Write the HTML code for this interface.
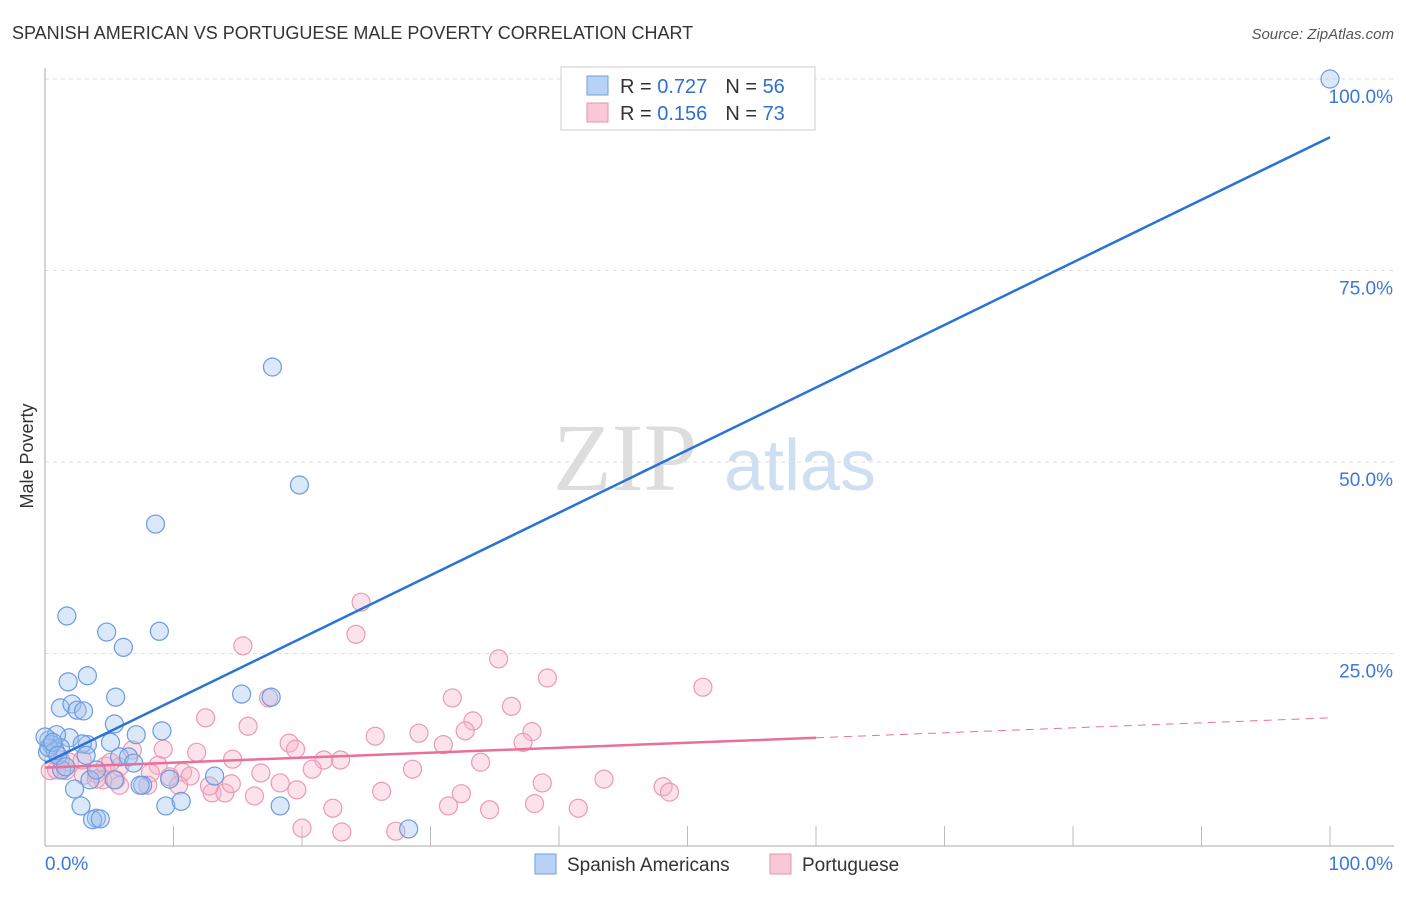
<!DOCTYPE html>
<html><head><meta charset="utf-8"><style>
body{margin:0;background:#fff;font-family:"Liberation Sans",sans-serif;}
</style></head><body>
<svg id="chart" width="1406" height="892" xmlns="http://www.w3.org/2000/svg">
<text x="12" y="39" font-size="18" fill="#333">SPANISH AMERICAN VS PORTUGUESE MALE POVERTY CORRELATION CHART</text>
<text x="1394" y="39" font-size="15" font-style="italic" fill="#555" text-anchor="end">Source: ZipAtlas.com</text>
<text x="33" y="456" font-size="18" fill="#333" text-anchor="middle" transform="rotate(-90 33 456)">Male Poverty</text>
<g>
<text x="625" y="490" font-size="96" font-family="Liberation Serif,serif" fill="#ddd" text-anchor="middle">ZIP</text>
<text x="800" y="490" font-size="72" fill="#cfdff3" text-anchor="middle">atlas</text>
</g>
<g id="grid"></g><g id="axes"></g><g id="marks"></g>
<g>
<rect x="561" y="67" width="254" height="63" fill="#fff" stroke="#ccc"/>
<rect x="587" y="76" width="21" height="19" fill="#b7d2f5" stroke="#6f9de0"/>
<rect x="587" y="103" width="21" height="19" fill="#f9c8d7" stroke="#e993ad"/>
<text x="620" y="93" font-size="20" fill="#333">R = <tspan fill="#2f6fd0">0.727</tspan><tspan dx="18">N = </tspan><tspan fill="#2f6fd0">56</tspan></text>
<text x="620" y="120" font-size="20" fill="#333">R = <tspan fill="#2f6fd0"> 0.156</tspan><tspan dx="18">N = </tspan><tspan fill="#2f6fd0">73</tspan></text>
</g>
<g>
<rect x="535" y="854" width="21" height="20" fill="#b7d2f5" stroke="#6f9de0"/>
<text x="567" y="871" font-size="19" fill="#333">Spanish Americans</text>
<rect x="770" y="854" width="21" height="20" fill="#f9c8d7" stroke="#e993ad"/>
<text x="802" y="871" font-size="19" fill="#333">Portuguese</text>
</g>
</svg>
<script>
const blueX=[100,17.7,19.8,8.6,1.7,4.8,8.9,6.1,3.3,1.8,5.5,15.3,17.6,1.2,2.1,2.5,3.0,5.4,9.1,7.1,1.9,0.3,0.9,0.5,1.2,3.3,2.9,5.1,5.8,6.5,6.9,7.6,9.7,13.2,2.3,3.5,5.4,2.8,9.4,10.6,18.3,4.0,3.7,28.3,7.4,0.2,0.8,4.0,1.3,0.3,0,0.6,1.0,1.6,4.3,3.2];
const blueY=[100,62.4,47.0,41.9,29.9,27.8,27.9,25.8,22.1,21.3,19.3,19.7,19.3,17.9,18.4,17.6,17.5,15.8,14.9,14.4,14.0,13.7,14.4,13.1,12.7,13.1,13.2,13.4,11.5,11.5,10.7,7.8,8.6,9.0,7.3,8.5,8.5,5.1,5.1,5.7,5.1,3.5,3.3,2.1,7.8,12.1,12.3,9.8,9.8,12.7,14.1,13.4,11.7,10.2,3.4,11.7];
const pinkX=[24.6,24.2,35.3,39.1,51.2,15.4,31.7,17.4,12.5,15.8,36.3,33.3,25.7,29.1,32.7,37.9,19.0,31.0,37.2,19.5,21.7,23.0,14.6,11.8,9.2,6.8,28.6,33.9,20.8,16.8,10.7,8.8,11.3,4.7,5.8,8.2,3.0,1.6,0.4,1.9,2.9,4.0,4.5,38.7,43.5,48.1,48.6,26.2,13.0,14.0,16.3,18.3,19.6,14.5,32.4,31.4,22.4,38.1,34.6,41.5,20.0,23.1,27.3,5.5,8.0,4.0,5.8,1.2,0.9,5.1,10.4,12.8,9.7];
const pinkY=[31.7,27.5,24.3,21.8,20.6,26.0,19.2,19.2,16.6,15.5,18.1,16.2,14.2,14.6,14.9,14.8,13.3,13.1,13.4,12.5,11.1,11.1,11.2,12.1,12.5,12.4,9.9,10.8,9.9,9.4,9.5,10.4,9.0,10.3,10.2,9.4,9.1,9.7,9.7,10.8,11.1,9.3,8.5,8.1,8.6,7.6,6.9,7.0,6.8,6.8,6.4,8.1,7.2,8.0,6.7,5.1,4.8,5.4,4.6,4.8,2.2,1.7,1.8,8.5,7.8,8.6,7.8,11.1,9.8,10.8,7.8,7.7,8.9];
const blueTrend=[10.7,92.4];
const pinkTrend=[10.1,16.6];
const pinkSolidEnd=60;
const yTicks=[25,50,75,100];
const yTickLabels=["25.0%","50.0%","75.0%","100.0%"];
const xTicks=[10,20,30,40,50,60,70,80,90,100];

const NS="http://www.w3.org/2000/svg";
const sx=v=>45+v*12.85, sy=v=>845-v*7.66;
function mk(tag,attrs,parent){const e=document.createElementNS(NS,tag);for(const k in attrs)e.setAttribute(k,attrs[k]);document.getElementById(parent).appendChild(e);return e;}
yTicks.forEach((t,i)=>{
  const g=mk('line',{x1:45,x2:1394,y1:sy(t),y2:sy(t),stroke:'#ddd','stroke-dasharray':'4,4'},'grid');
  
  
  const l=mk('text',{x:1393,y:sy(t)+24,'font-size':19,fill:'#3b78d8','text-anchor':'end'},'grid');
  l.textContent=yTickLabels[i];
  
  
});
mk('line',{x1:45,x2:45,y1:68,y2:846,stroke:'#aaa'},'axes');
mk('line',{x1:45,x2:1394,y1:846,y2:846,stroke:'#aaa'},'axes');
xTicks.forEach(t=>{const e=mk('line',{x1:sx(t),x2:sx(t),y1:826,y2:846,stroke:'#bbb'},'axes');
  
  });
const x0=mk('text',{x:45,y:870,'font-size':19,fill:'#3b78d8'},'axes');x0.textContent='0.0%';


const x1=mk('text',{x:1393,y:870,'font-size':19,fill:'#3b78d8','text-anchor':'end'},'axes');x1.textContent='100.0%';


pinkX.forEach((v,i)=>{const c=mk('circle',{cx:sx(v),cy:sy(pinkY[i]),r:9,fill:'rgba(246,178,200,0.38)',stroke:'#eb9ab4','stroke-width':1.2},'marks');
  
  });
blueX.forEach((v,i)=>{const c=mk('circle',{cx:sx(v),cy:sy(blueY[i]),r:9,fill:'rgba(160,195,240,0.38)',stroke:'#6b9be0','stroke-width':1.2},'marks');
  
  });
const pl=v=>pinkTrend[0]+(pinkTrend[1]-pinkTrend[0])*v/100;
const p1=mk('line',{x1:sx(0),y1:sy(pl(0)),x2:sx(pinkSolidEnd),y2:sy(pl(pinkSolidEnd)),stroke:'#e8709a','stroke-width':2.5},'marks');


const p2=mk('line',{x1:sx(pinkSolidEnd),y1:sy(pl(pinkSolidEnd)),x2:sx(100),y2:sy(pl(100)),stroke:'#e8709a','stroke-width':1,'stroke-dasharray':'8,6'},'marks');


const b=mk('line',{x1:sx(0),y1:sy(blueTrend[0]),x2:sx(100),y2:sy(blueTrend[1]),stroke:'#2a72d6','stroke-width':2.5},'marks');


</script>
</body></html>
